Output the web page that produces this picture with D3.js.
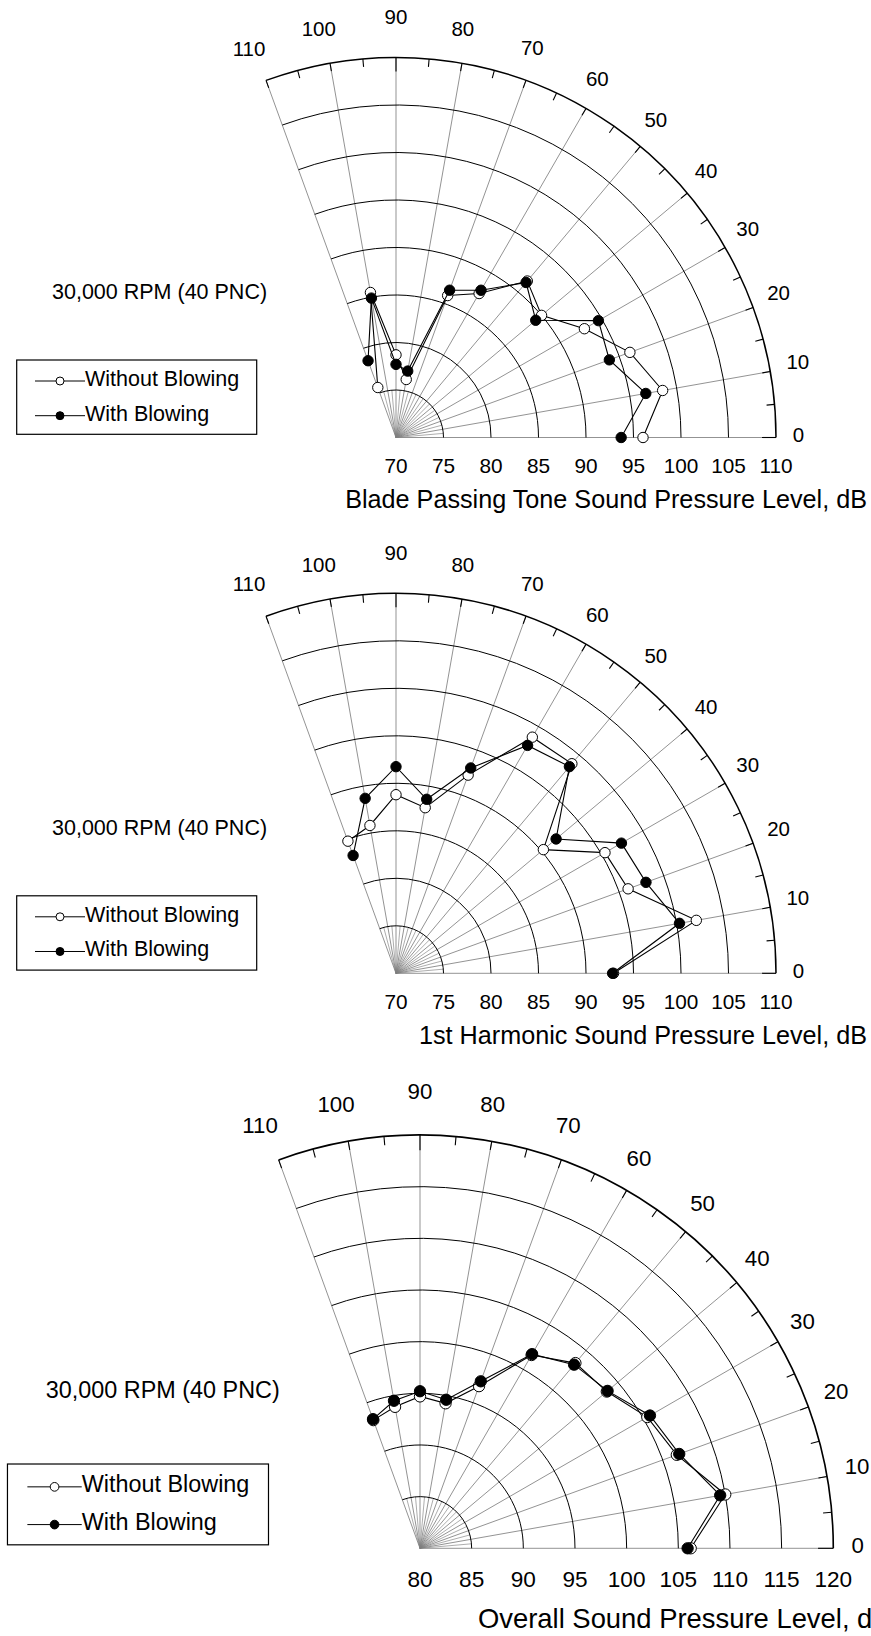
<!DOCTYPE html>
<html>
<head>
<meta charset="utf-8">
<script src="https://cdn.jsdelivr.net/npm/d3@7"></script>
<style>
  html, body { margin: 0; padding: 0; background: #fff; }
  svg { display: block; }
  text { font-family: "Liberation Sans", Arial, Helvetica, sans-serif; fill: #000; }
</style>
</head>
<body>
<svg id="chart" width="871" height="1636"></svg>
<script>
// Measurement angles (degrees from the rotor axis)
const angles = [0, 10, 20, 30, 40, 50, 60, 70, 80, 90, 100, 110];
const angleTickLabels = ["0", "10", "20", "30", "40", "50", "60", "70", "80", "90", "100", "110"];

// Blade passing tone SPL, dB
const bptWithout = [96.0, 98.5, 96.2, 92.9, 90.0, 91.5, 87.5, 85.9, 76.2, 78.7, 85.5, 75.6];
const bptWith    = [93.7, 96.7, 93.9, 94.6, 89.2, 91.3, 87.9, 86.5, 77.1, 77.7, 84.9, 78.6];

// 1st harmonic SPL, dB
const harmWithout = [92.9, 102.1, 96.0, 95.4, 90.25, 98.8, 98.7, 92.2, 87.7, 88.8, 85.8, 84.8];
const harmWith    = [92.8, 100.3, 98.0, 97.4, 92.0, 98.4, 97.7, 93.0, 88.6, 91.75, 88.7, 83.2];

// Overall SPL, dB
const oaWithout = [106.2, 110.0, 106.45, 105.4, 103.6, 103.4, 101.6, 96.7, 94.25, 94.7, 93.9, 93.2];
const oaWith    = [105.9, 109.5, 106.7, 105.7, 103.7, 103.2, 101.7, 97.2, 94.6, 95.2, 94.5, 93.3];

// Radial (level) tick labels
const levelTicksLow  = [70, 75, 80, 85, 90, 95, 100, 105, 110];
const levelTicksHigh = [80, 85, 90, 95, 100, 105, 110, 115, 120];

const seriesNames = ["Without Blowing", "With Blowing"];
const conditionLabel = "30,000 RPM (40 PNC)";

const svg = d3.select("#chart");
svg.append("rect").attr("width", 871).attr("height", 1636).attr("fill", "#fff");

const rad = d => d * Math.PI / 180;

function drawPanel(cfg) {
  const k = cfg.scale;
  const R = 380 * k;
  const rScale = d3.scaleLinear().domain(d3.extent(cfg.ticks)).range([0, R]);
  const aScale = d3.scaleLinear().domain([0, 110]).range([0, rad(110)]);
  const px = (a, v) => rScale(v) * Math.cos(aScale(a));
  const py = (a, v) => -rScale(v) * Math.sin(aScale(a));

  const g = svg.append("g").attr("transform", `translate(${cfg.cx},${cfg.cy})`);

  // minor spokes every 5 degrees inside the first ring
  const firstRing = rScale(cfg.ticks[1]);
  d3.range(5, 110, 10).forEach(a => {
    g.append("line")
      .attr("x1", 0).attr("y1", 0)
      .attr("x2", firstRing * Math.cos(aScale(a)))
      .attr("y2", -firstRing * Math.sin(aScale(a)))
      .attr("stroke", "#8a8a8a").attr("stroke-width", 0.7);
  });

  // major spokes every 10 degrees
  g.selectAll("line.spoke").data(angles).enter().append("line")
    .attr("class", "spoke")
    .attr("x1", 0).attr("y1", 0)
    .attr("x2", a => R * Math.cos(aScale(a)))
    .attr("y2", a => -R * Math.sin(aScale(a)))
    .attr("stroke", "#808080").attr("stroke-width", 0.85);

  // level rings
  cfg.ticks.slice(1).forEach((t, i, arr) => {
    const r = rScale(t);
    const p = d3.path();
    p.moveTo(r, 0);
    p.arc(0, 0, r, 0, -aScale(110), true);
    g.append("path").attr("d", p.toString())
      .attr("fill", "none").attr("stroke", "#000")
      .attr("stroke-width", i === arr.length - 1 ? 1.5 * k : 1);
  });

  // tick marks along the outer ring
  d3.range(0, 111, 5).forEach(a => {
    const len = (a === 0 || a === 90) ? 14 * k : 8 * k;
    const c = Math.cos(aScale(a)), s = Math.sin(aScale(a));
    g.append("line")
      .attr("x1", R * c).attr("y1", -R * s)
      .attr("x2", (R - len) * c).attr("y2", -(R - len) * s)
      .attr("stroke", "#000").attr("stroke-width", 1.1);
  });

  // angle labels around the outside
  angles.forEach((a, i) => {
    let off;
    if (a === 0) off = 22.5;
    else if (a === 90) off = 40.5;
    else off = 29 + 7 * Math.min(1, Math.max(0, (a - 40) / 60));
    const sh = (a % 90 === 0) ? 0 : 0.7;
    const rr = R + off * k;
    g.append("text")
      .attr("x", rr * Math.cos(aScale(a + sh)))
      .attr("y", -rr * Math.sin(aScale(a + sh)) - (a === 0 ? 2.5 * k : 0))
      .attr("dy", "0.35em")
      .attr("text-anchor", "middle")
      .attr("font-size", 20.5 * k)
      .text(angleTickLabels[i]);
  });

  // level labels below the baseline
  g.selectAll("text.lvl").data(cfg.ticks).enter().append("text")
    .attr("class", "lvl")
    .attr("x", t => rScale(t))
    .attr("y", 35.8 * k)
    .attr("text-anchor", "middle")
    .attr("font-size", 20.8 * k)
    .text(t => t);

  // data series: without blowing first, with blowing drawn over it
  const line = d3.line().x(d => px(d[0], d[1])).y(d => py(d[0], d[1]));
  const series = [
    { values: cfg.without, fill: "#fff" },
    { values: cfg.with, fill: "#000" }
  ];
  series.forEach(sr => {
    const pts = angles.map((a, i) => [a, sr.values[i]]);
    g.append("path").attr("d", line(pts))
      .attr("fill", "none").attr("stroke", "#000").attr("stroke-width", 1.1);
    g.selectAll(null).data(pts).enter().append("circle")
      .attr("cx", d => px(d[0], d[1]))
      .attr("cy", d => py(d[0], d[1]))
      .attr("r", 5.2 * k)
      .attr("fill", sr.fill)
      .attr("stroke", "#000").attr("stroke-width", 1);
  });

  // operating condition note
  g.append("text")
    .attr("x", -344 * k).attr("y", -138.5 * k)
    .attr("font-size", 21.5 * k)
    .text(conditionLabel);

  // legend
  const lg = g.append("g");
  lg.append("rect")
    .attr("x", -379.3 * k).attr("y", -77.5 * k)
    .attr("width", 240 * k).attr("height", 74.3 * k)
    .attr("fill", "#fff").attr("stroke", "#000").attr("stroke-width", 1.2);
  const rows = [
    { name: seriesNames[0], fill: "#fff", my: -56.5, ty: -51.5 },
    { name: seriesNames[1], fill: "#000", my: -21.8, ty: -17 }
  ];
  rows.forEach(row => {
    lg.append("line")
      .attr("x1", -361 * k).attr("x2", -311 * k)
      .attr("y1", row.my * k).attr("y2", row.my * k)
      .attr("stroke", "#000").attr("stroke-width", 1);
    lg.append("circle")
      .attr("cx", -336 * k).attr("cy", row.my * k).attr("r", 4 * k)
      .attr("fill", row.fill).attr("stroke", "#000").attr("stroke-width", 1);
    lg.append("text")
      .attr("x", -311 * k).attr("y", row.ty * k)
      .attr("font-size", 21.5 * k)
      .text(row.name);
  });

  // axis title
  svg.append("text")
    .attr("x", cfg.titleX).attr("y", cfg.titleY)
    .attr("text-anchor", cfg.titleAnchor)
    .attr("font-size", 25.2 * k)
    .text(cfg.title);
}

drawPanel({
  cx: 396, cy: 437.5, scale: 1, ticks: levelTicksLow,
  without: bptWithout, with: bptWith,
  title: "Blade Passing Tone Sound Pressure Level, dB",
  titleX: 867, titleY: 508, titleAnchor: "end"
});

drawPanel({
  cx: 396, cy: 973.3, scale: 1, ticks: levelTicksLow,
  without: harmWithout, with: harmWith,
  title: "1st Harmonic Sound Pressure Level, dB",
  titleX: 867, titleY: 1044, titleAnchor: "end"
});

drawPanel({
  cx: 420, cy: 1548.3, scale: 413.3 / 380, ticks: levelTicksHigh,
  without: oaWithout, with: oaWith,
  title: "Overall Sound Pressure Level, dB",
  titleX: 478, titleY: 1628, titleAnchor: "start"
});
</script>
</body>
</html>
